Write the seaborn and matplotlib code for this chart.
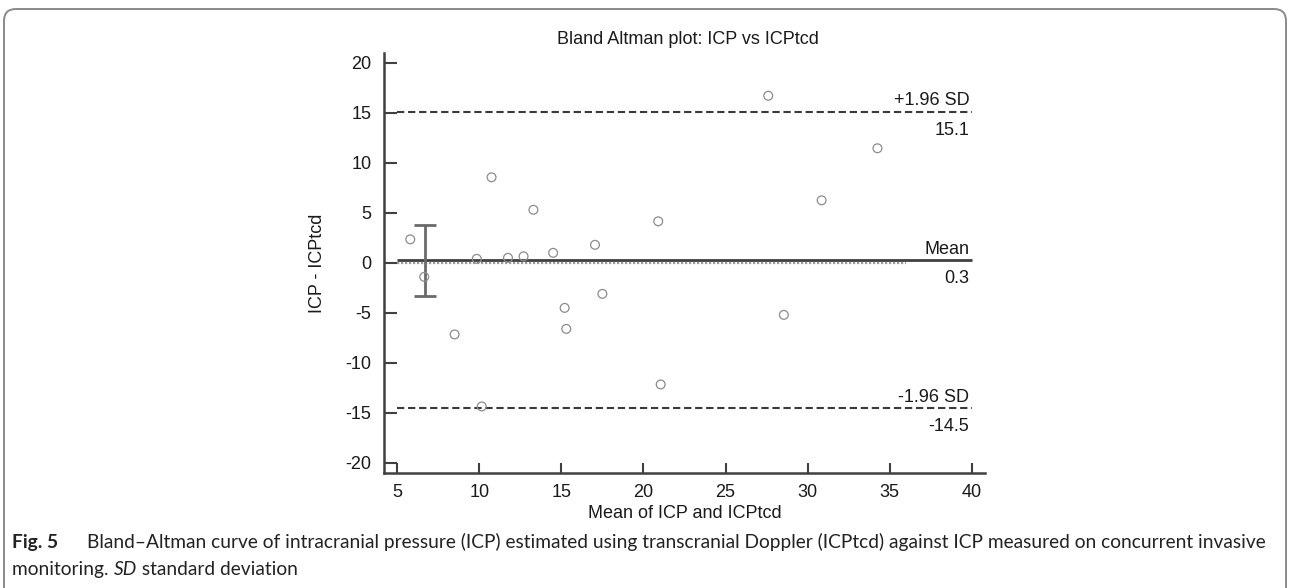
import matplotlib
matplotlib.use("Agg")
import matplotlib.pyplot as plt
import seaborn as sns
import pandas as pd
from matplotlib.patches import FancyBboxPatch
from matplotlib.transforms import IdentityTransform

# ---- data ----
mean_vals = [5.8, 6.65, 8.5, 9.85, 10.15, 10.75, 11.75, 12.7, 13.3, 14.5,
             15.2, 15.3, 17.05, 17.5, 20.9, 21.05, 27.6, 28.55, 30.85, 34.25]
diff_vals = [2.35, -1.4, -7.15, 0.4, -14.35, 8.55, 0.5, 0.65, 5.3, 1.0,
             -4.5, -6.6, 1.8, -3.1, 4.15, -12.15, 16.7, -5.2, 6.25, 11.45]
mean_diff = 0.3
upper_loa = 15.1
lower_loa = -14.5
ci_x = 6.7
ci_low, ci_high = -3.3, 3.8
x_ticks = [5, 10, 15, 20, 25, 30, 35, 40]
y_ticks = [-20, -15, -10, -5, 0, 5, 10, 15, 20]

title = "Bland Altman plot: ICP vs ICPtcd"
xlabel = "Mean of ICP and ICPtcd"
ylabel = "ICP - ICPtcd"

sns.set_theme(style="ticks")
plt.rcParams['font.family'] = ['Liberation Sans', 'DejaVu Sans']

W, H = 1290, 588
fig = plt.figure(figsize=(W / 100, H / 100), dpi=100)
fig.patch.set_facecolor("white")
ax = fig.add_axes([384 / W, 1 - 473 / H, (985 - 384) / W, (473 - 52.7) / H])
ax.set_facecolor("white")

df = pd.DataFrame({"mean": mean_vals, "diff": diff_vals})
sns.scatterplot(data=df, x="mean", y="diff", ax=ax, marker="o", s=40,
                color="#8c8c8c", linewidth=0.9, zorder=4)
pts = ax.collections[-1]
pts.set_facecolor("none")
pts.set_edgecolor("#8c8c8c")

dark = "#3a3a3a"
ax.hlines([upper_loa, lower_loa], 5, 40, colors=dark, linestyles=(0, (3.5, 1.8)), lw=1.5, zorder=3)
ax.hlines(0, 5, 36, colors="#9a9a9a", linestyles=(0, (1, 0.8)), lw=1.6, zorder=2)
ax.hlines(mean_diff, 5, 40, colors="#404040", lw=2.0, zorder=3)
ax.errorbar([ci_x], [mean_diff], yerr=[[mean_diff - ci_low], [ci_high - mean_diff]],
            fmt="none", ecolor="#6a6a6a", elinewidth=2, capsize=8, capthick=2, zorder=3)

lab_kw = dict(fontsize=13, color="#1a1a1a", ha="right", textcoords="offset points")
for val, top, bottom in [(upper_loa, "+1.96 SD", "15.1"), (mean_diff, "Mean", "0.3"),
                         (lower_loa, "-1.96 SD", "-14.5")]:
    ax.annotate(top, xy=(39.85, val), xytext=(0, 4.5), va="baseline", **lab_kw)
    ax.annotate(bottom, xy=(39.85, val), xytext=(0, -7.5), va="top", **lab_kw)

ax.set_xlim(4.2, 40.8)
ax.set_ylim(-21, 21)
ax.set_xticks(x_ticks)
ax.set_yticks(y_ticks)
ax.set_xticklabels([str(v) for v in x_ticks])
ax.set_yticklabels([str(v) for v in y_ticks])
ax.tick_params(axis="x", direction="in", length=7, width=1.5, color="#404040",
               labelsize=13, labelcolor="#1a1a1a", pad=8)
ax.tick_params(axis="y", direction="in", length=9, width=1.5, color="#404040",
               labelsize=13, labelcolor="#1a1a1a", pad=9)
for s in ["top", "right"]:
    ax.spines[s].set_visible(False)
for s in ["left", "bottom"]:
    ax.spines[s].set_color("#404040")
    ax.spines[s].set_linewidth(1.8)
ax.set_xlabel(xlabel, fontsize=13, color="#1a1a1a")
ax.set_ylabel(ylabel, fontsize=13, color="#1a1a1a")
ax.xaxis.set_label_coords(0.5, (473 - 514) / 420.3)
ax.yaxis.set_label_coords((318 - 384) / 601, 0.5)
ax.xaxis.label.set_va("center")
ax.yaxis.label.set_va("center")

fig.text(688 / W, 1 - 44 / H, title, ha="center", va="baseline", fontsize=13, color="#1a1a1a")

# rounded frame
frame = FancyBboxPatch((4, -60), W - 8, H - 9 + 60, boxstyle="round,pad=0,rounding_size=12",
                       transform=IdentityTransform(), facecolor="none", edgecolor="#8a8a8a",
                       lw=1.4, zorder=0)
fig.add_artist(frame)

# caption
renderer = fig.canvas.get_renderer()
cap_font = ["Lato", "DejaVu Sans"]
fig_label = "Fig. 5"
body1 = ("Bland\u2013Altman curve of intracranial pressure (ICP) estimated using transcranial Doppler "
         "(ICPtcd) against ICP measured on concurrent invasive")
line2 = [("monitoring. ", "normal"), ("SD", "italic"), (" standard deviation", "normal")]


def text_w(s, fs, style="normal", weight="normal"):
    t = fig.text(0, 0, s, family=cap_font, fontsize=fs, fontstyle=style, fontweight=weight)
    w = t.get_window_extent(renderer).width
    t.remove()
    return w


fs = 12 * 1178 / text_w(body1, 12)

y1 = 1 - 548 / H
y2 = 1 - 575 / H
col = "#222222"
fig.text(12 / W, y1, fig_label, family=cap_font, fontsize=fs, fontweight="bold",
         color=col, va="baseline")
fig.text(87 / W, y1, body1, family=cap_font, fontsize=fs, color=col, va="baseline")
x = 12
for s, st in line2:
    t = fig.text(x / W, y2, s, family=cap_font, fontsize=fs, fontstyle=st,
                 color=col, va="baseline")
    x += t.get_window_extent(renderer).width

fig.savefig("out.png", dpi=100, facecolor="white")
